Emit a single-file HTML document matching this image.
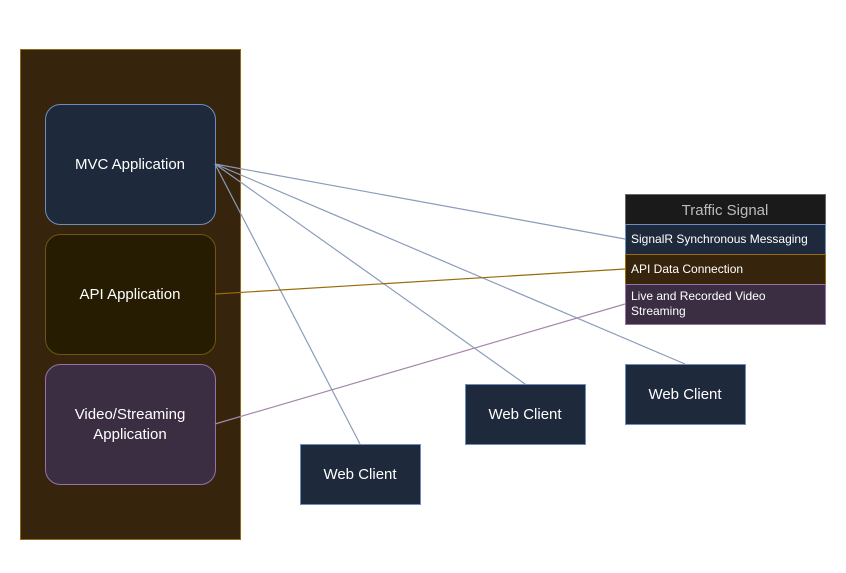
<!DOCTYPE html>
<html><head><meta charset="utf-8"><style>
html,body{margin:0;padding:0;background:#fff;}
svg{display:block;}
text{font-family:"Liberation Sans",Arial,sans-serif;}
</style></head><body>
<svg width="846" height="573" viewBox="0 0 846 573" xmlns="http://www.w3.org/2000/svg">
<rect x="20.5" y="49.5" width="220" height="490" fill="#36240d" stroke="#8f6a1e"/>
<rect x="45.5" y="104.5" width="170" height="120" rx="15" fill="#1e293b" stroke="#6c8ebf"/>
<rect x="45.5" y="234.5" width="170" height="120" rx="15" fill="#261c02" stroke="#6e5612"/>
<rect x="45.5" y="364.5" width="170" height="120" rx="15" fill="#3b2e42" stroke="#9673a6"/>
<g stroke="#8a9cba" stroke-width="1.2" fill="none">
<line x1="215" y1="164" x2="625" y2="239"/>
<line x1="215" y1="164" x2="685" y2="364"/>
<line x1="215" y1="164" x2="525" y2="384"/>
<line x1="215" y1="164" x2="360" y2="444"/>
</g>
<line x1="215" y1="294" x2="625" y2="269" stroke="#9a6b0c" stroke-width="1.2"/>
<line x1="215" y1="424" x2="625" y2="304" stroke="#a787ac" stroke-width="1.2"/>
<text x="130" y="169" fill="#fff" font-size="15" text-anchor="middle">MVC Application</text>
<text x="130" y="299" fill="#fff" font-size="15" text-anchor="middle">API Application</text>
<text x="130" y="419" fill="#fff" font-size="15" text-anchor="middle">Video/Streaming</text>
<text x="130" y="439" fill="#fff" font-size="15" text-anchor="middle">Application</text>
<rect x="625.5" y="194.5" width="200" height="30" fill="#1a1a1a" stroke="#666"/>
<rect x="625.5" y="224.5" width="200" height="30" fill="#1e293b" stroke="#6c8ebf"/>
<rect x="625.5" y="254.5" width="200" height="30" fill="#36240d" stroke="#9a6b0c"/>
<rect x="625.5" y="284.5" width="200" height="40" fill="#3b2e42" stroke="#9673a6"/>
<text x="725" y="215" fill="#bbb" font-size="15" text-anchor="middle">Traffic Signal</text>
<text x="631" y="243" fill="#fff" font-size="12">SignalR Synchronous Messaging</text>
<text x="631" y="273" fill="#fff" font-size="12">API Data Connection</text>
<text x="631" y="300" fill="#fff" font-size="12">Live and Recorded Video</text>
<text x="631" y="315" fill="#fff" font-size="12">Streaming</text>
<rect x="300.5" y="444.5" width="120" height="60" fill="#1e293b" stroke="#6c8ebf"/>
<rect x="465.5" y="384.5" width="120" height="60" fill="#1e293b" stroke="#6c8ebf"/>
<rect x="625.5" y="364.5" width="120" height="60" fill="#1e293b" stroke="#6c8ebf"/>
<text x="360" y="479" fill="#fff" font-size="15" text-anchor="middle">Web Client</text>
<text x="525" y="419" fill="#fff" font-size="15" text-anchor="middle">Web Client</text>
<text x="685" y="399" fill="#fff" font-size="15" text-anchor="middle">Web Client</text>
</svg>
</body></html>
